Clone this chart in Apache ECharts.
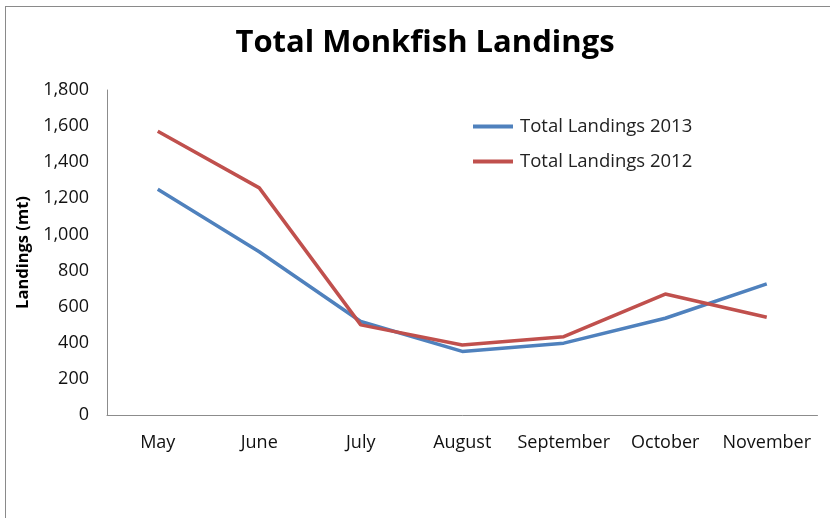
<!DOCTYPE html>
<html>
<head>
<meta charset="utf-8">
<script src="https://cdn.jsdelivr.net/npm/echarts@6/dist/echarts.min.js"></script>
<style>
html,body{margin:0;padding:0;background:#fff;}
#frame{position:absolute;left:5px;top:6px;width:900px;height:600px;border:1.5px solid #8a8a8a;box-sizing:border-box;}
#chart{position:absolute;left:0;top:0;width:830px;height:518px;}
</style>
</head>
<body>
<div id="frame"></div>
<div id="chart"></div>
<script>
const categories = ['May','June','July','August','September','October','November'];
const landings2013 = [1250, 904, 518, 352, 398, 536, 726];
const landings2012 = [1572, 1258, 499, 388, 434, 670, 541];
const yTicks = {min: 0, max: 1800, interval: 200};

const chart = echarts.init(document.getElementById('chart'), null, {renderer: 'canvas'});
const fontFam = '"Open Sans", "Noto Sans", sans-serif';
chart.setOption({
  animation: false,
  backgroundColor: 'transparent',
  title: {
    text: 'Total Monkfish Landings',
    left: 420, top: 23, textAlign: 'center',
    textStyle: {fontFamily: fontFam, fontWeight: 'bold', fontSize: 31, color: '#000'}
  },
  legend: {
    orient: 'vertical', left: 468, top: 112, itemGap: 16,
    itemWidth: 40, itemHeight: 4,
    icon: 'rect',
    textStyle: {fontFamily: fontFam, fontSize: 18.5, color: '#222', padding: [0,0,0,2]},
    data: [{name:'Total Landings 2013'},{name:'Total Landings 2012'}]
  },
  grid: {left: 107, right: 12.5, top: 90, bottom: 103, containLabel: false},
  xAxis: {
    type: 'category', data: categories, boundaryGap: true,
    axisLine: {lineStyle: {color: '#8c8c8c', width: 1}},
    axisTick: {show: false},
    axisLabel: {fontFamily: fontFam, fontSize: 18, color: '#111', margin: 19, interval: 0}
  },
  yAxis: {
    type: 'value', min: yTicks.min, max: yTicks.max, interval: yTicks.interval,
    name: 'Landings (mt)', nameLocation: 'middle', nameGap: 72, nameRotate: 90,
    nameTextStyle: {fontFamily: fontFam, fontWeight: 'bold', fontSize: 16.5, color: '#000'},
    axisLine: {show: true, lineStyle: {color: '#8c8c8c', width: 1}},
    axisTick: {show: false},
    splitLine: {show: false},
    axisLabel: {fontFamily: fontFam, fontSize: 18, color: '#111', margin: 18,
      formatter: v => v.toLocaleString('en-US')}
  },
  series: [
    {name: 'Total Landings 2013', type: 'line', data: landings2013, symbol: 'none',
     lineStyle: {color: '#4F81BD', width: 3.5}, itemStyle: {color: '#4F81BD'}},
    {name: 'Total Landings 2012', type: 'line', data: landings2012, symbol: 'none',
     lineStyle: {color: '#C0504D', width: 3.5}, itemStyle: {color: '#C0504D'}}
  ]
});
</script>
</body>
</html>
